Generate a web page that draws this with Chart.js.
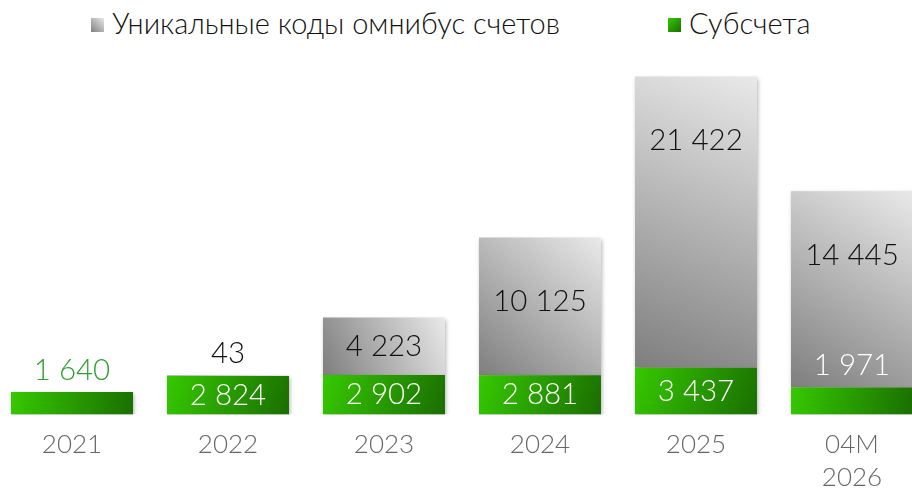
<!DOCTYPE html>
<html>
<head>
<meta charset="utf-8">
<script src="https://cdn.jsdelivr.net/npm/chart.js@4"></script>
<style>
  html, body { margin: 0; padding: 0; background: #fff; overflow: hidden; width: 912px; height: 489px; }
  #wrap { position: absolute; left: -6px; top: 0; width: 936px; height: 518px; }
  .legend { position: absolute; top: 5px; font-family: Lato, "Open Sans", sans-serif; font-weight: 300; font-size: 29px; color: #111; white-space: nowrap; }
  .legend span.sw { display: inline-block; width: 13px; height: 14px; margin-right: 8px; vertical-align: 2px; }
</style>
</head>
<body>
<div class="legend" style="left:91px"><span class="sw" style="background:linear-gradient(45deg,#808080,#e8e8e8)"></span>Уникальные коды омнибус счетов</div>
<div class="legend" style="left:668px"><span class="sw" style="background:linear-gradient(135deg,#35c800,#1a7000)"></span>Субсчета</div>
<div id="wrap"><canvas id="chart" width="936" height="518"></canvas></div>
<script>
const categories = ['2021', '2022', '2023', '2024', '2025', ['04M', '2026']];
const subaccounts = [1640, 2824, 2902, 2881, 3437, 1971];
const omnibusCodes = [null, 43, 4223, 10125, 21422, 14445];

const FONT = 'Lato, "Open Sans", sans-serif';

function fmt(v) {
    return String(v).replace(/\B(?=(\d{3})+(?!\d))/g, ' ');
}

// gradient per bar, built from the scales
function barGradient(context, stops, diag) {
    const chart = context.chart;
    const x = chart.scales.x, y = chart.scales.y;
    if (!x || !y || context.type !== 'data') return stops[0];
    const i = context.dataIndex;
    const ds = context.datasetIndex;
    let bottom = 0;
    for (let d = 0; d < ds; d++) bottom += chart.data.datasets[d].data[i] || 0;
    const top = bottom + (chart.data.datasets[ds].data[i] || 0);
    const cx = x.getPixelForValue(i);
    const step = x.getPixelForValue(1) - x.getPixelForValue(0);
    const w = step * 0.782 / 2;
    const y0 = y.getPixelForValue(top), y1 = y.getPixelForValue(bottom);
    if (![cx, w, y0, y1].every(Number.isFinite)) return stops[0];
    const g = diag === 'gray'
        ? chart.ctx.createLinearGradient(cx + w, y0, cx - w, y1)
        : chart.ctx.createLinearGradient(cx - w, y0, cx + w, y1);
    g.addColorStop(0, stops[0]);
    g.addColorStop(1, stops[1]);
    return g;
}

const shadowPlugin = {
    id: 'shadow',
    beforeDatasetsDraw(chart) {
        const ctx = chart.ctx;
        ctx.save();
        ctx.shadowColor = 'rgba(0,0,0,0.3)';
        ctx.shadowBlur = 4;
        ctx.shadowOffsetX = 1;
        ctx.shadowOffsetY = 2;
    },
    afterDatasetsDraw(chart) {
        chart.ctx.restore();
    }
};

const labelPlugin = {
    id: 'valueLabels',
    afterDatasetsDraw(chart) {
        const ctx = chart.ctx;
        const green = chart.getDatasetMeta(0).data;
        const gray = chart.getDatasetMeta(1).data;
        ctx.save();
        ctx.shadowColor = 'transparent';
        ctx.font = '300 29.5px ' + FONT;
        ctx.textAlign = 'center';
        ctx.textBaseline = 'middle';
        green.forEach((g, i) => {
            const gh = g.base - g.y;
            const hasGray = omnibusCodes[i] != null;
            const r = gray[i];
            const rh = hasGray ? r.base - r.y : 0;
            if (gh >= 32) {
                ctx.fillStyle = '#fff';
                ctx.fillText(fmt(subaccounts[i]), g.x, g.y + gh / 2);
            } else {
                ctx.fillStyle = hasGray ? '#fff' : '#2f9e2f';
                ctx.fillText(fmt(subaccounts[i]), g.x, g.y - 22);
            }
            if (hasGray) {
                ctx.fillStyle = '#111';
                if (rh < 30) {
                    ctx.fillText(fmt(omnibusCodes[i]), r.x, r.y - 22);
                } else {
                    ctx.fillText(fmt(omnibusCodes[i]), r.x, r.y + Math.min(rh / 2, 64));
                }
            }
        });
        ctx.restore();
    }
};

new Chart(document.getElementById('chart'), {
    type: 'bar',
    data: {
        labels: categories,
        datasets: [{
            label: 'Субсчета',
            data: subaccounts,
            backgroundColor: c => barGradient(c, ['#36c900', '#1a6e00'], 'green'),
            borderWidth: 0
        }, {
            label: 'Уникальные коды омнибус счетов',
            data: omnibusCodes,
            backgroundColor: c => barGradient(c, ['#e9e9e9', '#7e7e7e'], 'gray'),
            borderWidth: 0
        }]
    },
    plugins: [shadowPlugin, labelPlugin],
    options: {
        responsive: false,
        animation: false,
        layout: { padding: { top: 61, bottom: 18, left: 0, right: 0 } },
        datasets: {
            bar: { categoryPercentage: 1, barPercentage: 0.782 }
        },
        scales: {
            x: {
                stacked: true,
                grid: { display: false },
                border: { display: false },
                ticks: {
                    color: '#666',
                    padding: 5,
                    font: { family: FONT, size: 26, weight: 300, lineHeight: 1.3 }
                }
            },
            y: {
                stacked: true,
                display: false,
                min: 0,
                max: 26000
            }
        },
        plugins: {
            legend: { display: false },
            tooltip: { enabled: false }
        }
    }
});
</script>
</body>
</html>
